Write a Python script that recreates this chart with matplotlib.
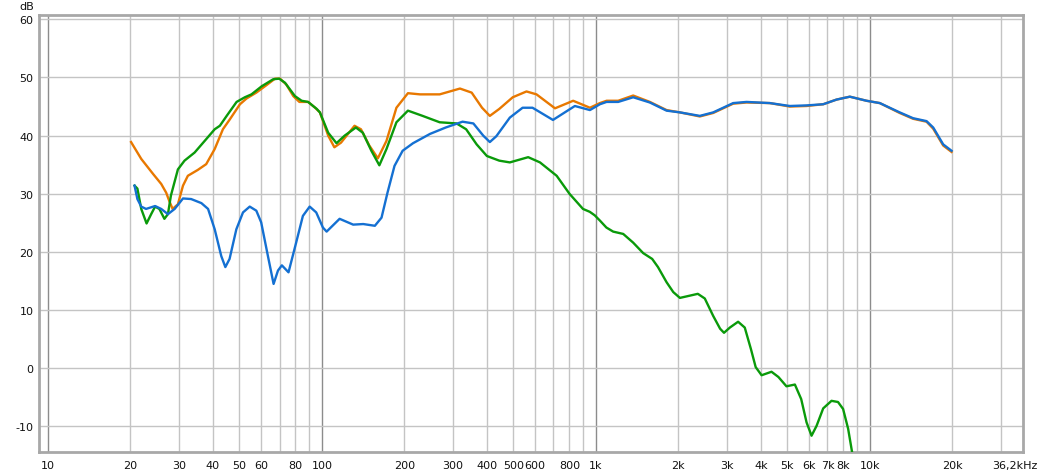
import matplotlib
matplotlib.use('Agg')
import matplotlib.pyplot as plt

# response curves (Hz, dB)
hf_freq = [1034, 1094, 1206, 1368, 1574, 1811, 2026, 2395, 2680, 3170, 3548, 4315,
           5105, 5873, 6755, 7555, 8450, 9725, 10870, 12850, 14380, 16100, 17030,
           18520, 19870]
hf_db = [45.4, 45.8, 45.8, 46.6, 45.7, 44.3, 44.0, 43.4, 44.0, 45.6, 45.8, 45.6,
         45.1, 45.2, 45.4, 46.2, 46.7, 46.0, 45.6, 44.0, 43.0, 42.5, 41.4, 38.5, 37.4]

orange_freq = [20.1, 21.9, 24.2, 25.9, 27.0, 27.7, 28.5, 29.8, 31.1, 32.4, 35.2, 37.8,
               40.6, 43.5, 46.1, 50.2, 53.1, 57.6, 62.8, 67.4, 70.3, 74.1, 78.6, 82.7,
               89.0, 94.4, 98.3, 105.4, 111, 117.4, 131.5, 138.8, 148.9, 160, 172, 187,
               206, 228, 269, 319, 352, 384, 410, 444, 497, 558, 607, 709, 826, 951]
orange_db = [38.9, 36.0, 33.4, 31.7, 30.2, 28.8, 27.4, 28.2, 31.4, 33.1, 34.1, 35.1,
             37.7, 41.1, 42.8, 45.4, 46.4, 47.4, 48.7, 49.8, 49.8, 48.8, 46.8, 45.8,
             45.8, 44.8, 44.0, 40.0, 38.0, 38.8, 41.7, 41.1, 38.3, 36.1, 39.1, 44.8,
             47.3, 47.1, 47.1, 48.1, 47.4, 44.8, 43.4, 44.6, 46.6, 47.6, 47.1, 44.7,
             46.0, 44.8]
orange_hf_db = [45.6, 46.0, 46.0, 46.9, 45.8, 44.4, 44.0, 43.3, 43.9, 45.5, 45.7, 45.6,
                45.0, 45.1, 45.4, 46.2, 46.7, 46.0, 45.6, 43.9, 42.9, 42.4, 41.2, 38.3, 37.2]

blue_freq = [20.7, 21.2, 21.9, 22.8, 24.6, 25.9, 27.4, 29.0, 31.1, 33.3, 36.3, 38.4,
             40.6, 42.9, 44.4, 46.0, 48.7, 51.5, 54.5, 57.6, 60.0, 63.5, 66.6, 69.1,
             71.4, 75.5, 80.5, 85.2, 90.2, 95.3, 100.8, 104, 116, 130, 141.5, 156,
             165, 173.5, 184, 197, 215, 248, 283, 326, 357, 388, 410, 433, 485, 540,
             587, 697, 770, 838, 951]
blue_db = [31.4, 29.1, 27.8, 27.4, 27.9, 27.4, 26.5, 27.4, 29.2, 29.1, 28.4, 27.4,
           23.9, 19.3, 17.4, 18.8, 23.9, 26.8, 27.8, 27.1, 25.1, 19.3, 14.5, 16.8,
           17.7, 16.5, 21.6, 26.2, 27.8, 26.8, 24.2, 23.5, 25.7, 24.7, 24.8, 24.5,
           25.9, 30.2, 34.8, 37.4, 38.7, 40.3, 41.4, 42.4, 42.1, 40.0, 38.9, 39.9,
           43.1, 44.8, 44.8, 42.7, 44.0, 45.1, 44.4]

green_freq = [20.7, 21.2, 21.9, 22.9, 23.8, 24.6, 25.5, 26.6, 27.4, 28.1, 29.8, 31.5,
              34.3, 37.8, 40.6, 42.4, 44.9, 48.8, 52.3, 55.3, 60.3, 66.4, 69.8, 73.3,
              79.7, 84.3, 89.0, 95.7, 98.3, 105.4, 113, 121, 133, 141, 151.5, 162,
              172, 187, 206, 233, 269, 310, 336, 367, 400, 444, 485, 566, 625, 719,
              801, 897, 950, 990, 1034, 1092, 1156, 1258, 1368, 1488, 1605, 1685,
              1811, 1916, 2026, 2208, 2355, 2497, 2680, 2840, 2935, 3083, 3304, 3494,
              3680, 3830, 4025, 4375, 4636, 4960, 5325, 5615, 5873, 6125, 6390, 6755,
              7244, 7650, 7985, 8330, 8617, 9000]
green_db = [31.4, 30.9, 27.4, 24.9, 26.5, 27.8, 27.4, 25.7, 26.5, 29.7, 34.2, 35.7,
            37.1, 39.4, 41.1, 41.7, 43.4, 45.8, 46.6, 47.1, 48.5, 49.7, 49.8, 49.1,
            46.8, 46.0, 45.8, 44.6, 44.0, 40.5, 38.7, 40.0, 41.4, 40.5, 37.4, 34.9,
            37.7, 42.3, 44.3, 43.4, 42.3, 42.1, 41.1, 38.5, 36.5, 35.7, 35.4, 36.3,
            35.4, 33.1, 30.0, 27.4, 26.9, 26.3, 25.4, 24.2, 23.5, 23.1, 21.6, 19.8,
            18.8, 17.4, 14.8, 13.1, 12.1, 12.5, 12.8, 12.0, 9.0, 6.8, 6.1, 7.0,
            8.0, 7.0, 3.3, 0.2, -1.2, -0.6, -1.5, -3.1, -2.8, -5.3, -9.3, -11.6,
            -9.9, -6.9, -5.6, -5.8, -7.0, -10.4, -14.5, -20.0]

grid_freqs = [m * 10 ** e for e in range(1, 5) for m in range(1, 10)
              if m * 10 ** e <= 30000]
tick_labels = {10: '10', 20: '20', 30: '30', 40: '40', 50: '50', 60: '60', 80: '80',
               100: '100', 200: '200', 300: '300', 400: '400', 500: '500', 600: '600',
               800: '800', 1000: '1k', 2000: '2k', 3000: '3k', 4000: '4k', 5000: '5k',
               6000: '6k', 7000: '7k', 8000: '8k', 10000: '10k', 20000: '20k'}
db_ticks = [-10, 0, 10, 20, 30, 40, 50, 60]

fig = plt.figure(figsize=(10.42, 4.77), dpi=100)
ax = fig.add_axes([0.0374, 0.0503, 0.9443, 0.9168])
ax.set_xscale('log')
ax.set_xlim(9.27, 36200)
ax.set_ylim(-14.4, 60.8)

for f in grid_freqs:
    decade = f in (10, 100, 1000, 10000)
    ax.axvline(f, color='#8c8c8c' if decade else '#c4c4c4', lw=1.0, zorder=1)
for d in db_ticks:
    ax.axhline(d, color='#c4c4c4', lw=1.0, zorder=1)

ax.plot(orange_freq + hf_freq, orange_db + orange_hf_db, color='#e87800', lw=1.7,
        zorder=3, solid_joinstyle='round')
ax.plot(green_freq, green_db, color='#0a9a0a', lw=1.7, zorder=4, solid_joinstyle='round')
ax.plot(blue_freq + hf_freq, blue_db + hf_db, color='#1470d2', lw=1.7, zorder=5,
        solid_joinstyle='round')

ax.set_xticks(list(tick_labels.keys()))
ax.set_xticklabels(list(tick_labels.values()))
ax.xaxis.set_minor_locator(matplotlib.ticker.NullLocator())
ax.set_yticks(db_ticks)
ax.set_yticklabels([str(d) for d in db_ticks])
ax.tick_params(length=0, labelsize=8, colors='#111111')
ax.tick_params(axis='x', pad=6)
ax.tick_params(axis='y', pad=4)

ax.text(1.0145, -0.03, '36,2kHz', transform=ax.transAxes, ha='right', va='center',
        fontsize=8, color='#111111')
fig.text(27 / 1042, 1 - 7 / 477, 'dB', ha='center', va='center', fontsize=8,
         color='#111111')

for s in ax.spines.values():
    s.set_color('#a8a8a8')
    s.set_linewidth(2)

plt.savefig('out.png', dpi=100)
